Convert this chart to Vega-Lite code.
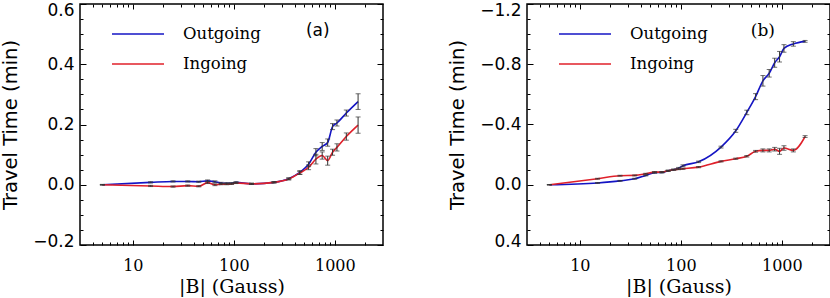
{
  "$schema": "https://vega.github.io/schema/vega-lite/v6.json",
  "padding": {"left": -1, "top": 0, "right": 0, "bottom": 0},
  "spacing": 61,
  "config": {
    "view": {"stroke": "black", "strokeWidth": 1.5},
    "axis": {"domain": false, "grid": false, "tickColor": "black", "tickWidth": 1, "labelColor": "black", "titleColor": "black", "titleFontWeight": "normal"},
    "axisX": {"labelFont": "DejaVu Serif", "labelFontSize": 16, "titleFont": "DejaVu Serif", "titleFontSize": 19},
    "axisY": {"labelFont": "DejaVu Sans", "labelFontSize": 17, "titleFont": "DejaVu Sans", "titleFontSize": 19.5}
  },
  "datasets": {
    "a": [
      {"B": 5, "t": 0, "lo": -0.001, "hi": 0.001, "s": "Outgoing"},
      {"B": 15, "t": 0.008, "lo": 0.006, "hi": 0.010, "s": "Outgoing"},
      {"B": 25, "t": 0.011, "lo": 0.009, "hi": 0.013, "s": "Outgoing"},
      {"B": 35, "t": 0.011, "lo": 0.009, "hi": 0.013, "s": "Outgoing"},
      {"B": 45, "t": 0.010, "lo": 0.008, "hi": 0.012, "s": "Outgoing"},
      {"B": 55, "t": 0.013, "lo": 0.010, "hi": 0.016, "s": "Outgoing"},
      {"B": 65, "t": 0.010, "lo": 0.007, "hi": 0.013, "s": "Outgoing"},
      {"B": 75, "t": 0.006, "lo": 0.004, "hi": 0.008, "s": "Outgoing"},
      {"B": 85, "t": 0.005, "lo": 0.003, "hi": 0.007, "s": "Outgoing"},
      {"B": 95, "t": 0.005, "lo": 0.003, "hi": 0.007, "s": "Outgoing"},
      {"B": 105, "t": 0.008, "lo": 0.006, "hi": 0.010, "s": "Outgoing"},
      {"B": 150, "t": 0.003, "lo": 0.001, "hi": 0.005, "s": "Outgoing"},
      {"B": 250, "t": 0.008, "lo": 0.006, "hi": 0.010, "s": "Outgoing"},
      {"B": 350, "t": 0.020, "lo": 0.017, "hi": 0.023, "s": "Outgoing"},
      {"B": 450, "t": 0.041, "lo": 0.035, "hi": 0.047, "s": "Outgoing"},
      {"B": 550, "t": 0.068, "lo": 0.060, "hi": 0.076, "s": "Outgoing"},
      {"B": 650, "t": 0.108, "lo": 0.096, "hi": 0.120, "s": "Outgoing"},
      {"B": 750, "t": 0.127, "lo": 0.114, "hi": 0.140, "s": "Outgoing"},
      {"B": 850, "t": 0.140, "lo": 0.128, "hi": 0.152, "s": "Outgoing"},
      {"B": 950, "t": 0.193, "lo": 0.183, "hi": 0.203, "s": "Outgoing"},
      {"B": 1050, "t": 0.205, "lo": 0.195, "hi": 0.215, "s": "Outgoing"},
      {"B": 1300, "t": 0.238, "lo": 0.228, "hi": 0.248, "s": "Outgoing"},
      {"B": 1700, "t": 0.276, "lo": 0.250, "hi": 0.302, "s": "Outgoing"},
      {"B": 5, "t": 0, "lo": -0.001, "hi": 0.001, "s": "Ingoing"},
      {"B": 15, "t": -0.004, "lo": -0.006, "hi": -0.002, "s": "Ingoing"},
      {"B": 25, "t": -0.006, "lo": -0.008, "hi": -0.004, "s": "Ingoing"},
      {"B": 35, "t": -0.003, "lo": -0.005, "hi": -0.001, "s": "Ingoing"},
      {"B": 45, "t": -0.005, "lo": -0.007, "hi": -0.003, "s": "Ingoing"},
      {"B": 55, "t": 0.007, "lo": 0.004, "hi": 0.010, "s": "Ingoing"},
      {"B": 65, "t": 0.000, "lo": -0.003, "hi": 0.003, "s": "Ingoing"},
      {"B": 75, "t": 0.002, "lo": 0.000, "hi": 0.004, "s": "Ingoing"},
      {"B": 85, "t": 0.002, "lo": 0.000, "hi": 0.004, "s": "Ingoing"},
      {"B": 95, "t": 0.003, "lo": 0.001, "hi": 0.005, "s": "Ingoing"},
      {"B": 105, "t": 0.006, "lo": 0.004, "hi": 0.008, "s": "Ingoing"},
      {"B": 150, "t": 0.003, "lo": 0.001, "hi": 0.005, "s": "Ingoing"},
      {"B": 250, "t": 0.008, "lo": 0.006, "hi": 0.010, "s": "Ingoing"},
      {"B": 350, "t": 0.019, "lo": 0.016, "hi": 0.022, "s": "Ingoing"},
      {"B": 450, "t": 0.039, "lo": 0.034, "hi": 0.044, "s": "Ingoing"},
      {"B": 550, "t": 0.058, "lo": 0.050, "hi": 0.066, "s": "Ingoing"},
      {"B": 650, "t": 0.085, "lo": 0.069, "hi": 0.101, "s": "Ingoing"},
      {"B": 750, "t": 0.097, "lo": 0.085, "hi": 0.109, "s": "Ingoing"},
      {"B": 850, "t": 0.080, "lo": 0.065, "hi": 0.095, "s": "Ingoing"},
      {"B": 950, "t": 0.108, "lo": 0.098, "hi": 0.118, "s": "Ingoing"},
      {"B": 1050, "t": 0.124, "lo": 0.112, "hi": 0.136, "s": "Ingoing"},
      {"B": 1300, "t": 0.160, "lo": 0.148, "hi": 0.172, "s": "Ingoing"},
      {"B": 1700, "t": 0.198, "lo": 0.171, "hi": 0.225, "s": "Ingoing"}
    ],
    "b": [
      {"B": 5, "t": 0, "lo": -0.001, "hi": 0.001, "s": "Outgoing"},
      {"B": 15, "t": -0.012, "lo": -0.015, "hi": -0.009, "s": "Outgoing"},
      {"B": 25, "t": -0.026, "lo": -0.029, "hi": -0.023, "s": "Outgoing"},
      {"B": 35, "t": -0.040, "lo": -0.043, "hi": -0.037, "s": "Outgoing"},
      {"B": 45, "t": -0.062, "lo": -0.065, "hi": -0.059, "s": "Outgoing"},
      {"B": 55, "t": -0.080, "lo": -0.084, "hi": -0.076, "s": "Outgoing"},
      {"B": 65, "t": -0.082, "lo": -0.086, "hi": -0.078, "s": "Outgoing"},
      {"B": 75, "t": -0.093, "lo": -0.097, "hi": -0.089, "s": "Outgoing"},
      {"B": 85, "t": -0.100, "lo": -0.104, "hi": -0.096, "s": "Outgoing"},
      {"B": 95, "t": -0.110, "lo": -0.115, "hi": -0.105, "s": "Outgoing"},
      {"B": 105, "t": -0.126, "lo": -0.132, "hi": -0.120, "s": "Outgoing"},
      {"B": 150, "t": -0.152, "lo": -0.157, "hi": -0.147, "s": "Outgoing"},
      {"B": 250, "t": -0.250, "lo": -0.256, "hi": -0.244, "s": "Outgoing"},
      {"B": 350, "t": -0.358, "lo": -0.368, "hi": -0.348, "s": "Outgoing"},
      {"B": 450, "t": -0.480, "lo": -0.495, "hi": -0.465, "s": "Outgoing"},
      {"B": 550, "t": -0.585, "lo": -0.605, "hi": -0.565, "s": "Outgoing"},
      {"B": 650, "t": -0.690, "lo": -0.725, "hi": -0.655, "s": "Outgoing"},
      {"B": 750, "t": -0.740, "lo": -0.765, "hi": -0.715, "s": "Outgoing"},
      {"B": 850, "t": -0.810, "lo": -0.840, "hi": -0.780, "s": "Outgoing"},
      {"B": 950, "t": -0.850, "lo": -0.885, "hi": -0.815, "s": "Outgoing"},
      {"B": 1050, "t": -0.905, "lo": -0.930, "hi": -0.880, "s": "Outgoing"},
      {"B": 1300, "t": -0.935, "lo": -0.950, "hi": -0.920, "s": "Outgoing"},
      {"B": 1700, "t": -0.952, "lo": -0.958, "hi": -0.946, "s": "Outgoing"},
      {"B": 5, "t": 0, "lo": -0.001, "hi": 0.001, "s": "Ingoing"},
      {"B": 15, "t": -0.040, "lo": -0.043, "hi": -0.037, "s": "Ingoing"},
      {"B": 25, "t": -0.060, "lo": -0.063, "hi": -0.057, "s": "Ingoing"},
      {"B": 35, "t": -0.062, "lo": -0.065, "hi": -0.059, "s": "Ingoing"},
      {"B": 45, "t": -0.073, "lo": -0.076, "hi": -0.070, "s": "Ingoing"},
      {"B": 55, "t": -0.084, "lo": -0.087, "hi": -0.081, "s": "Ingoing"},
      {"B": 65, "t": -0.084, "lo": -0.087, "hi": -0.081, "s": "Ingoing"},
      {"B": 75, "t": -0.093, "lo": -0.096, "hi": -0.090, "s": "Ingoing"},
      {"B": 85, "t": -0.100, "lo": -0.103, "hi": -0.097, "s": "Ingoing"},
      {"B": 95, "t": -0.103, "lo": -0.106, "hi": -0.100, "s": "Ingoing"},
      {"B": 105, "t": -0.106, "lo": -0.110, "hi": -0.102, "s": "Ingoing"},
      {"B": 150, "t": -0.117, "lo": -0.121, "hi": -0.113, "s": "Ingoing"},
      {"B": 250, "t": -0.155, "lo": -0.159, "hi": -0.151, "s": "Ingoing"},
      {"B": 350, "t": -0.173, "lo": -0.177, "hi": -0.169, "s": "Ingoing"},
      {"B": 450, "t": -0.189, "lo": -0.194, "hi": -0.184, "s": "Ingoing"},
      {"B": 550, "t": -0.222, "lo": -0.228, "hi": -0.216, "s": "Ingoing"},
      {"B": 650, "t": -0.228, "lo": -0.238, "hi": -0.218, "s": "Ingoing"},
      {"B": 750, "t": -0.228, "lo": -0.238, "hi": -0.218, "s": "Ingoing"},
      {"B": 850, "t": -0.236, "lo": -0.248, "hi": -0.224, "s": "Ingoing"},
      {"B": 950, "t": -0.222, "lo": -0.242, "hi": -0.202, "s": "Ingoing"},
      {"B": 1050, "t": -0.244, "lo": -0.259, "hi": -0.229, "s": "Ingoing"},
      {"B": 1300, "t": -0.228, "lo": -0.238, "hi": -0.218, "s": "Ingoing"},
      {"B": 1700, "t": -0.320, "lo": -0.326, "hi": -0.314, "s": "Ingoing"}
    ]
  },
  "resolve": {"scale": {"color": "independent"}, "legend": {"color": "independent"}},
  "hconcat": [
    {
      "width": 303,
      "height": 241,
      "data": {"name": "a"},
      "resolve": {"axis": {"x": "independent", "y": "independent"}},
      "layer": [
        {
          "mark": {"type": "line", "interpolate": "monotone", "strokeWidth": 1.6},
          "encoding": {
            "x": {"field": "B", "type": "quantitative",
              "scale": {"type": "log", "domain": [3, 3000], "nice": false},
              "axis": {"orient": "bottom", "values": [4,5,6,7,8,9,10,20,30,40,50,60,70,80,90,100,200,300,400,500,600,700,800,900,1000,2000],
                "format": "d", "labelExpr": "datum.value==10||datum.value==100||datum.value==1000 ? datum.label : ''",
                "tickSize": {"condition": {"test": "datum.value==10||datum.value==100||datum.value==1000", "value": -5}, "value": -3},
                "labelPadding": 17, "title": "|B|  (Gauss)", "titlePadding": 4}},
            "y": {"field": "t", "type": "quantitative",
              "scale": {"domain": [-0.2, 0.6], "nice": false, "zero": false},
              "axis": {"orient": "left", "values": [-0.2,-0.15,-0.1,-0.05,0,0.05,0.1,0.15,0.2,0.25,0.3,0.35,0.4,0.45,0.5,0.55,0.6],
                "format": ".1f", "labelExpr": "abs(datum.value*5-round(datum.value*5))<1e-6 ? datum.label : ''",
                "tickSize": {"condition": {"test": "abs(datum.value*5-round(datum.value*5))<1e-6", "value": -6}, "value": -3},
                "labelOffset": {"condition": [{"test": "datum.value > 0.59", "value": 6.5}, {"test": "datum.value < -0.19", "value": -3.5}], "value": 0},
                "labelPadding": 12, "title": "Travel Time (min)", "titlePadding": 12}},
            "color": {"field": "s", "type": "nominal",
              "scale": {"domain": ["Outgoing", "Ingoing"], "range": ["#1414c4", "#e0202a"]},
              "legend": {"orient": "none", "legendX": 31, "legendY": 15, "title": null, "symbolType": "stroke", "symbolSize": 2704, "symbolStrokeWidth": 1.6, "clipHeight": 30, "rowPadding": 0, "labelOffset": 18, "labelFont": "DejaVu Serif", "labelFontSize": 16.5, "labelColor": "black", "padding": 0}}
          }
        },
        {
          "mark": {"type": "errorbar", "color": "#333333", "thickness": 1, "ticks": {"size": 5, "color": "#333333"}},
          "encoding": {
            "x": {"field": "B", "type": "quantitative", "scale": {"type": "log", "domain": [3, 3000], "nice": false}, "axis": null},
            "y": {"field": "lo", "type": "quantitative", "scale": {"domain": [-0.2, 0.6], "nice": false, "zero": false}, "axis": null},
            "y2": {"field": "hi"}
          }
        },
        {
          "mark": {"type": "point", "opacity": 0},
          "encoding": {
            "x": {"field": "B", "type": "quantitative", "scale": {"type": "log", "domain": [3, 3000], "nice": false},
              "axis": {"orient": "top", "values": [4,5,6,7,8,9,10,20,30,40,50,60,70,80,90,100,200,300,400,500,600,700,800,900,1000,2000],
                "labels": false, "title": null,
                "tickSize": {"condition": {"test": "datum.value==10||datum.value==100||datum.value==1000", "value": -5}, "value": -3}}},
            "y": {"field": "t", "type": "quantitative", "scale": {"domain": [-0.2, 0.6], "nice": false, "zero": false},
              "axis": {"orient": "right", "values": [-0.2,-0.15,-0.1,-0.05,0,0.05,0.1,0.15,0.2,0.25,0.3,0.35,0.4,0.45,0.5,0.55,0.6],
                "labels": false, "title": null,
                "tickSize": {"condition": {"test": "abs(datum.value*5-round(datum.value*5))<1e-6", "value": -6}, "value": -3}}}
          }
        },
        {
          "data": {"values": [{"B": 679, "t": 0.512, "label": "(a)"}]},
          "mark": {"type": "text", "font": "DejaVu Sans", "fontSize": 17, "color": "black"},
          "encoding": {
            "x": {"field": "B", "type": "quantitative", "scale": {"type": "log", "domain": [3, 3000], "nice": false}, "axis": null},
            "y": {"field": "t", "type": "quantitative", "scale": {"domain": [-0.2, 0.6], "nice": false, "zero": false}, "axis": null},
            "text": {"field": "label"}
          }
        }
      ]
    },
    {
      "width": 303,
      "height": 241,
      "data": {"name": "b"},
      "resolve": {"axis": {"x": "independent", "y": "independent"}},
      "layer": [
        {
          "mark": {"type": "line", "interpolate": "monotone", "strokeWidth": 1.6},
          "encoding": {
            "x": {"field": "B", "type": "quantitative",
              "scale": {"type": "log", "domain": [3, 3000], "nice": false},
              "axis": {"orient": "bottom", "values": [4,5,6,7,8,9,10,20,30,40,50,60,70,80,90,100,200,300,400,500,600,700,800,900,1000,2000],
                "format": "d", "labelExpr": "datum.value==10||datum.value==100||datum.value==1000 ? datum.label : ''",
                "tickSize": {"condition": {"test": "datum.value==10||datum.value==100||datum.value==1000", "value": -5}, "value": -3},
                "labelPadding": 17, "title": "|B|  (Gauss)", "titlePadding": 4}},
            "y": {"field": "t", "type": "quantitative",
              "scale": {"domain": [-1.2, 0.4], "reverse": true, "nice": false, "zero": false},
              "axis": {"orient": "left", "values": [-1.2,-1.1,-1.0,-0.9,-0.8,-0.7,-0.6,-0.5,-0.4,-0.3,-0.2,-0.1,0,0.1,0.2,0.3,0.4],
                "format": ".1f", "labelExpr": "abs(datum.value*2.5-round(datum.value*2.5))<1e-6 ? datum.label : ''",
                "tickSize": {"condition": {"test": "abs(datum.value*2.5-round(datum.value*2.5))<1e-6", "value": -6}, "value": -3},
                "labelOffset": {"condition": [{"test": "datum.value < -1.19", "value": 6.5}, {"test": "datum.value > 0.39", "value": -3.5}], "value": 0},
                "labelPadding": 12, "title": "Travel Time (min)", "titlePadding": 12}},
            "color": {"field": "s", "type": "nominal",
              "scale": {"domain": ["Outgoing", "Ingoing"], "range": ["#1414c4", "#e0202a"]},
              "legend": {"orient": "none", "legendX": 31, "legendY": 15, "title": null, "symbolType": "stroke", "symbolSize": 2704, "symbolStrokeWidth": 1.6, "clipHeight": 30, "rowPadding": 0, "labelOffset": 18, "labelFont": "DejaVu Serif", "labelFontSize": 16.5, "labelColor": "black", "padding": 0}}
          }
        },
        {
          "mark": {"type": "errorbar", "color": "#333333", "thickness": 1, "ticks": {"size": 5, "color": "#333333"}},
          "encoding": {
            "x": {"field": "B", "type": "quantitative", "scale": {"type": "log", "domain": [3, 3000], "nice": false}, "axis": null},
            "y": {"field": "lo", "type": "quantitative", "scale": {"domain": [-1.2, 0.4], "reverse": true, "nice": false, "zero": false}, "axis": null},
            "y2": {"field": "hi"}
          }
        },
        {
          "mark": {"type": "point", "opacity": 0},
          "encoding": {
            "x": {"field": "B", "type": "quantitative", "scale": {"type": "log", "domain": [3, 3000], "nice": false},
              "axis": {"orient": "top", "values": [4,5,6,7,8,9,10,20,30,40,50,60,70,80,90,100,200,300,400,500,600,700,800,900,1000,2000],
                "labels": false, "title": null,
                "tickSize": {"condition": {"test": "datum.value==10||datum.value==100||datum.value==1000", "value": -5}, "value": -3}}},
            "y": {"field": "t", "type": "quantitative", "scale": {"domain": [-1.2, 0.4], "reverse": true, "nice": false, "zero": false},
              "axis": {"orient": "right", "values": [-1.2,-1.1,-1.0,-0.9,-0.8,-0.7,-0.6,-0.5,-0.4,-0.3,-0.2,-0.1,0,0.1,0.2,0.3,0.4],
                "labels": false, "title": null,
                "tickSize": {"condition": {"test": "abs(datum.value*2.5-round(datum.value*2.5))<1e-6", "value": -6}, "value": -3}}}
          }
        },
        {
          "data": {"values": [{"B": 649, "t": -1.024, "label": "(b)"}]},
          "mark": {"type": "text", "font": "DejaVu Serif", "fontSize": 17, "color": "black"},
          "encoding": {
            "x": {"field": "B", "type": "quantitative", "scale": {"type": "log", "domain": [3, 3000], "nice": false}, "axis": null},
            "y": {"field": "t", "type": "quantitative", "scale": {"domain": [-1.2, 0.4], "reverse": true, "nice": false, "zero": false}, "axis": null},
            "text": {"field": "label"}
          }
        }
      ]
    }
  ]
}
